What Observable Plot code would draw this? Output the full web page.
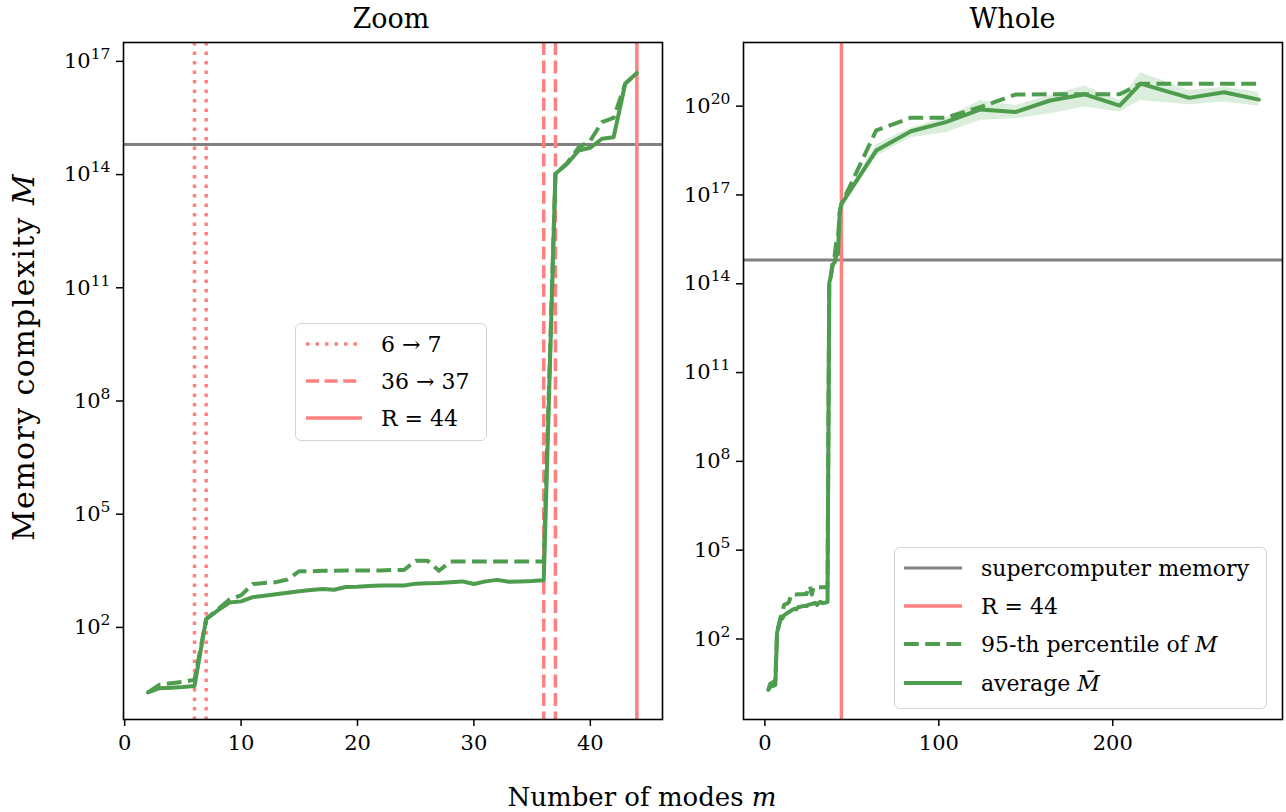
<!DOCTYPE html>
<html><head><meta charset="utf-8">
<script src="https://cdn.jsdelivr.net/npm/d3@7"></script>
<script src="https://cdn.jsdelivr.net/npm/@observablehq/plot@0.6"></script>
<style>
body{margin:0;background:#fff;}
#wrap{position:relative;width:1286px;height:812px;overflow:hidden;font-family:"DejaVu Serif",serif;color:#000;}
.abs{position:absolute;white-space:nowrap;}
.legend{position:absolute;border:1.5px solid #d4d4d4;border-radius:6px;background:rgba(255,255,255,0.85);box-sizing:border-box;}
.row{position:absolute;display:flex;align-items:center;font-size:22px;font-family:"DejaVu Serif",serif;}
</style></head><body><div id="wrap"></div>
<script>
// ---------- data ----------
const modesZoom = [2,3,4,5,6,7,8,9,10,11,12,13,14,15,16,17,18,19,20,21,22,23,24,25,26,27,28,29,30,31,32,33,34,35,36,37,38,39,40,41,42,43,44];
// log10 of average memory complexity
const avgLog10Zoom = [0.28,0.39,0.40,0.42,0.45,2.22,2.45,2.66,2.69,2.80,2.84,2.88,2.92,2.96,2.99,3.02,3.00,3.07,3.08,3.10,3.11,3.11,3.11,3.16,3.17,3.18,3.20,3.22,3.15,3.22,3.26,3.21,3.22,3.23,3.25,14.02,14.28,14.64,14.71,14.95,14.99,16.41,16.69];
// log10 of 95-th percentile
const p95Log10Zoom = [0.28,0.48,0.52,0.56,0.61,2.22,2.48,2.74,2.85,3.15,3.18,3.20,3.27,3.49,3.49,3.50,3.50,3.51,3.51,3.51,3.51,3.52,3.52,3.77,3.77,3.50,3.75,3.75,3.75,3.75,3.75,3.75,3.75,3.75,3.75,14.02,14.30,14.72,14.90,15.39,15.50,16.41,16.69];
const modesWide = [64,84,104,124,144,164,184,204,216,244,264,284];
const avgLog10Wide = [18.50,19.15,19.46,19.89,19.80,20.19,20.40,20.02,20.76,20.28,20.47,20.22];
const p95Log10Wide = [19.18,19.61,19.61,19.97,20.39,20.40,20.40,20.40,20.76,20.76,20.76,20.76];
const bandModes = [44,64,84,104,124,144,164,184,204,216,244,264,284];
const bandLowLog10 = [16.62,18.30,18.93,19.10,19.52,19.57,19.74,19.97,19.80,20.19,20.05,20.14,20.00];
const bandHighLog10 = [16.76,18.70,19.27,19.60,20.19,20.02,20.36,20.68,20.19,21.13,20.53,20.64,20.47];
const supercomputerMemory = 6.3e14;
const transitionsDotted = [6,7];
const transitionsDashed = [36,37];
const rankR = [44];
const xTicksZoom = [0,10,20,30,40];
const xTicksWhole = [0,100,200];
const yExpZoom = [2,5,8,11,14,17];
const yExpWhole = [2,5,8,11,14,17,20];

// ---------- tables ----------
const zoomRows = modesZoom.map((m,i)=>({m, avg:10**avgLog10Zoom[i], p95:10**p95Log10Zoom[i]}));
const wholeRows = zoomRows.concat(modesWide.map((m,i)=>({m, avg:10**avgLog10Wide[i], p95:10**p95Log10Wide[i]})));
const bandRows = bandModes.map((m,i)=>({m, lo:10**bandLowLog10[i], hi:10**bandHighLog10[i]}));

const RED = "#ff8080", GREEN = "#4e9c4e", GREY = "#808080";
const FONT = '"DejaVu Serif", serif';

function panel({width, ml, mr, xDomain, yDomain, xTicks, yExps, marks}) {
  const svg = Plot.plot({
    width, height: 812, marginLeft: ml, marginRight: mr, marginTop: 42, marginBottom: 93,
    style: {fontFamily: FONT, fontSize: "21px", background: "transparent", overflow: "visible", color: "#000"},
    x: {domain: xDomain},
    y: {type: "log", domain: yDomain},
    marks: [
      ...marks,
      Plot.frame({stroke: "#000", strokeWidth: 1.6}),
      Plot.axisX({ticks: xTicks, tickSize: 7, tickPadding: 9, strokeWidth: 1.5, label: null, fontSize: 21, fontFamily: FONT}),
      Plot.axisY({ticks: yExps.map(e => 10**e), tickSize: 7, tickPadding: 6, strokeWidth: 1.5, label: null, fontSize: 21, fontFamily: FONT,
        tickFormat: d => "10^" + Math.round(Math.log10(d))})
    ]
  });
  svg.querySelectorAll('g[aria-label="y-axis tick label"] text').forEach(t => {
    const [b, e] = t.textContent.split("^");
    t.textContent = "";
    const ns = "http://www.w3.org/2000/svg";
    const t1 = document.createElementNS(ns, "tspan"); t1.textContent = b;
    const t2 = document.createElementNS(ns, "tspan"); t2.textContent = e;
    t2.setAttribute("dy", "-0.58em"); t2.style.fontSize = "0.74em";
    t.appendChild(t1); t.appendChild(t2);
  });
  return svg;
}

const wrap = document.getElementById("wrap");

const left = panel({
  width: 680, ml: 123, mr: 18,
  xDomain: [-0.1, 46.2], yDomain: [10**-0.44, 10**17.5],
  xTicks: xTicksZoom, yExps: yExpZoom,
  marks: [
    Plot.ruleY([supercomputerMemory], {stroke: GREY, strokeWidth: 3}),
    Plot.ruleX(transitionsDotted, {stroke: RED, strokeWidth: 3.5, strokeDasharray: "3.5,6", strokeLinecap: "butt"}),
    Plot.ruleX(transitionsDashed, {stroke: RED, strokeWidth: 3.5, strokeDasharray: "13,5.6", strokeLinecap: "butt"}),
    Plot.ruleX(rankR, {stroke: RED, strokeWidth: 3.5}),
    Plot.line(zoomRows, {x: "m", y: "p95", stroke: GREEN, strokeWidth: 4, strokeDasharray: "14.8,6.4", strokeLinecap: "butt"}),
    Plot.line(zoomRows, {x: "m", y: "avg", stroke: GREEN, strokeWidth: 4})
  ]
});
left.style.position = "absolute"; left.style.left = "0px"; left.style.top = "0px";
wrap.appendChild(left);

const right = panel({
  width: 606, ml: 63, mr: 4,
  xDomain: [-12.3, 297.6], yDomain: [10**-0.72, 10**22.15],
  xTicks: xTicksWhole, yExps: yExpWhole,
  marks: [
    Plot.areaY(bandRows, {x: "m", y1: "lo", y2: "hi", fill: "#008000", fillOpacity: 0.14}),
    Plot.ruleY([supercomputerMemory], {stroke: GREY, strokeWidth: 3}),
    Plot.ruleX(rankR, {stroke: RED, strokeWidth: 3.5}),
    Plot.line(wholeRows, {x: "m", y: "p95", stroke: GREEN, strokeWidth: 4, strokeDasharray: "14.8,6.4", strokeLinecap: "butt"}),
    Plot.line(wholeRows, {x: "m", y: "avg", stroke: GREEN, strokeWidth: 4})
  ]
});
right.style.position = "absolute"; right.style.left = "680px"; right.style.top = "0px";
wrap.appendChild(right);

// ---------- texts ----------
function addText(html, cx, cy, size, rot, ls) {
  const d = document.createElement("div");
  d.className = "abs";
  d.innerHTML = html;
  d.style.left = cx + "px"; d.style.top = cy + "px";
  d.style.fontSize = size + "px";
  d.style.lineHeight = "1";
  if (ls) d.style.letterSpacing = ls + "px";
  d.style.transform = "translate(-50%,-50%)" + (rot ? ` rotate(${rot}deg)` : "");
  wrap.appendChild(d);
}
addText("Zoom", 391, 18, 27);
addText("Whole", 1012.5, 18, 27);
addText("Number of modes <i>m</i>", 642, 797, 26);
addText("Memory complexity <i>M</i>", 24, 357, 30, -90, 1.4);

// ---------- legends ----------
function legend(box, rows) {
  const L = document.createElement("div");
  L.className = "legend";
  Object.assign(L.style, {left: box.x + "px", top: box.y + "px", width: box.w + "px", height: box.h + "px"});
  rows.forEach(r => {
    const row = document.createElement("div");
    row.className = "row";
    row.style.left = (box.sx - box.x) + "px";
    row.style.top = (r.cy - box.y - 16) + "px";
    row.style.height = "32px";
    const sw = box.sw;
    row.innerHTML = `<svg width="${sw}" height="10" style="overflow:visible;margin-right:${box.gap}px"><line x1="0" x2="${sw}" y1="5" y2="5" stroke="${r.color}" stroke-width="${r.w}" ${r.dash ? `stroke-dasharray="${r.dash}"` : ""}/></svg><span>${r.label}</span>`;
    L.appendChild(row);
  });
  wrap.appendChild(L);
}
legend({x: 295, y: 323, w: 192, h: 118, sx: 305, sw: 56, gap: 19}, [
  {cy: 343, label: "6 → 7", color: RED, w: 3.5, dash: "3.5,6"},
  {cy: 380, label: "36 → 37", color: RED, w: 3.5, dash: "13,5.6"},
  {cy: 417, label: "R = 44", color: RED, w: 3.5}
]);
legend({x: 894, y: 547, w: 373, h: 162, sx: 903, sw: 58, gap: 19}, [
  {cy: 567, label: "supercomputer memory", color: GREY, w: 3},
  {cy: 605, label: "R = 44", color: RED, w: 3.5},
  {cy: 643, label: "95-th percentile of <i>M</i>", color: GREEN, w: 4, dash: "14.8,6.4"},
  {cy: 682, label: "average <i>M&#772;</i>", color: GREEN, w: 4}
]);
</script></body></html>
